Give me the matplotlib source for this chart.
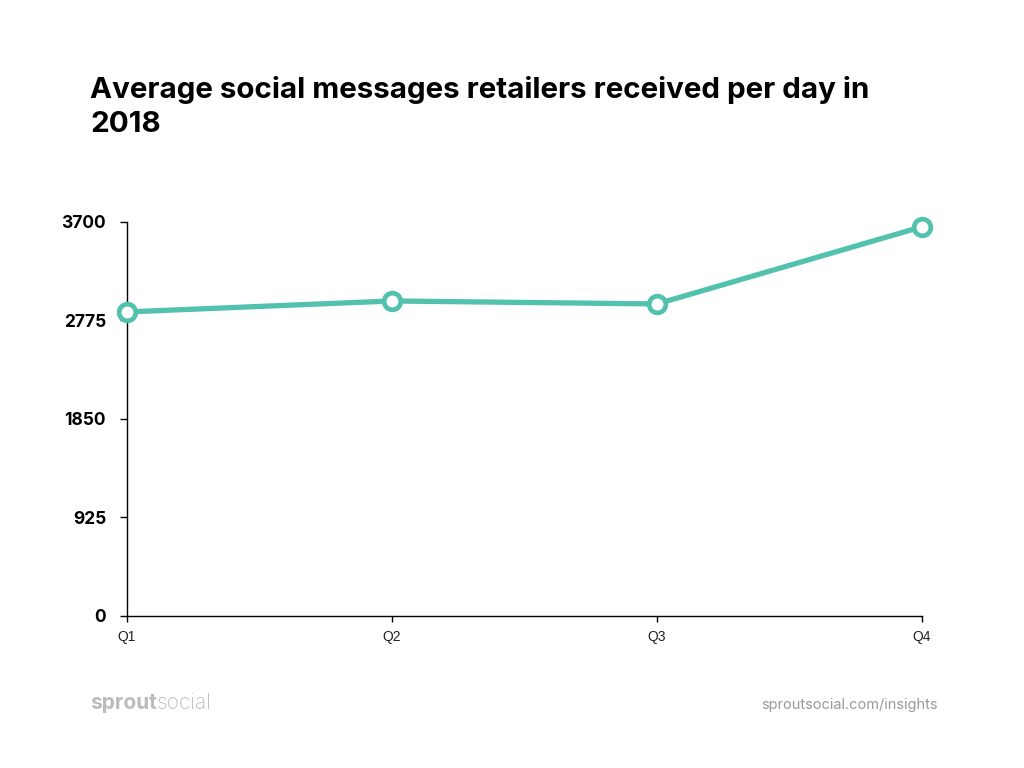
import matplotlib.pyplot as plt

quarters = ["Q1", "Q2", "Q3", "Q4"]
messages = [2855, 2958, 2930, 3655]
y_ticks = [0, 925, 1850, 2775, 3700]

line_color = "#52C1AD"

plt.rcParams['font.family'] = ['Inter', 'DejaVu Sans']

fig = plt.figure(figsize=(10.24, 7.68), dpi=100)
ax = fig.add_axes([0.124, 0.198, 0.7764, 0.513])

ax.plot(range(len(quarters)), messages, color=line_color, linewidth=3.8,
        marker="o", markersize=12, markerfacecolor="white",
        markeredgecolor=line_color, markeredgewidth=3.4,
        clip_on=False, zorder=3)

ax.set_xlim(0, len(quarters) - 1)
ax.set_ylim(0, 3700)
ax.set_xticks(range(len(quarters)))
ax.set_xticklabels(quarters, fontsize=10, color="#222222",
                   family=['Liberation Sans', 'DejaVu Sans'])
ax.set_yticks(y_ticks)
ax.set_yticklabels([str(t) for t in y_ticks], fontsize=12.5, fontweight="bold")

for side in ["top", "right"]:
    ax.spines[side].set_visible(False)
for side in ["left", "bottom"]:
    ax.spines[side].set_color("black")
    ax.spines[side].set_linewidth(1.0)
ax.tick_params(axis="y", length=5, width=1, pad=10)
ax.tick_params(axis="x", length=4, width=1, pad=6)

fig.text(0.088, 0.82, "Average social messages retailers received per day in\n2018",
         fontsize=21.3, fontweight="bold", ha="left", va="bottom",
         linespacing=1.35, color="black")

# footer logo: bold "sprout" followed directly by light "social"
logo1 = fig.text(0.088, 0.085, "sprout", fontsize=15, fontweight="bold",
                 color="#BBBBBB", ha="left", va="center")
fig.canvas.draw()
bb = logo1.get_window_extent().transformed(fig.transFigure.inverted())
fig.text(bb.x1, 0.085, "social", fontsize=15, fontweight="light",
         color="#BBBBBB", ha="left", va="center")
fig.text(0.916, 0.082, "sproutsocial.com/insights", fontsize=10.5,
         color="#999999", ha="right", va="center")

fig.savefig("out.png", dpi=100, facecolor="white")
